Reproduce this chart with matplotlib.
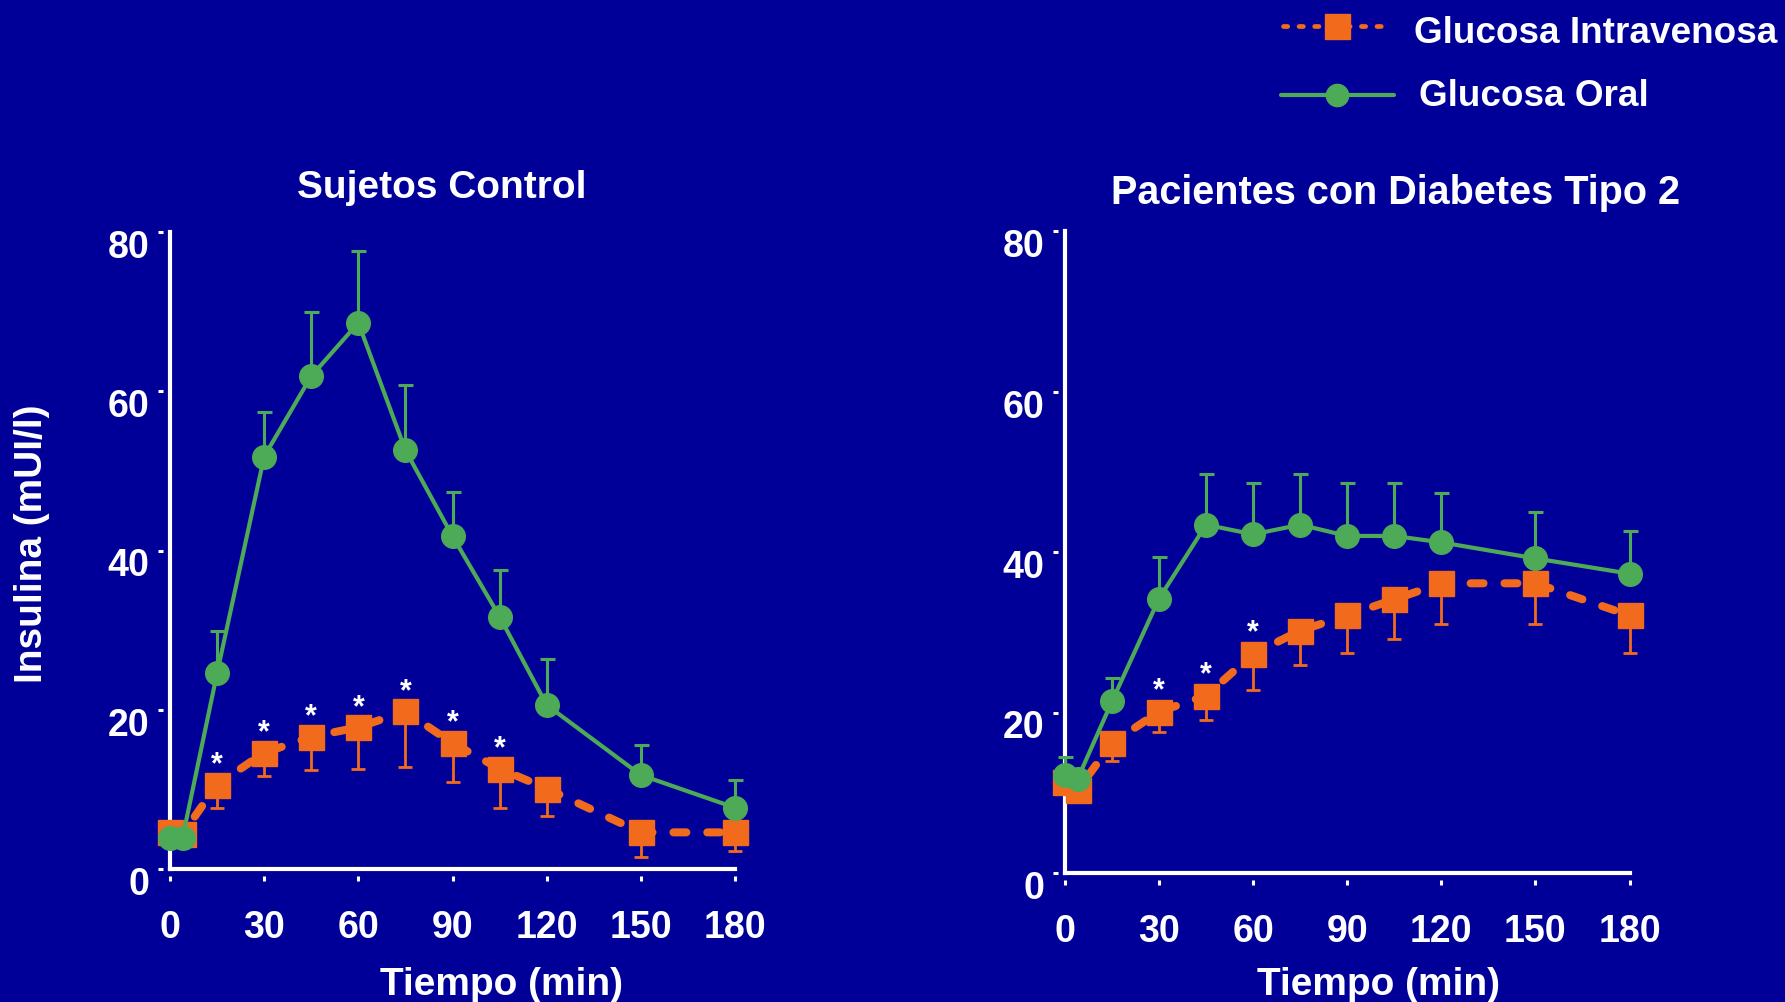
import matplotlib.pyplot as plt
from matplotlib.lines import Line2D
from matplotlib.transforms import ScaledTranslation
import numpy as np

plt.rcParams['font.family'] = ['Liberation Sans', 'DejaVu Sans']
plt.rcParams['font.weight'] = 'bold'

BG = '#000099'
ORANGE = '#F26B1D'
GREEN = '#4DAA57'

# sampling times (min)
time = [0, 4, 15, 30, 45, 60, 75, 90, 105, 120, 150, 180]

# control subjects: insulin (mU/l), mean and SEM
control_oral = [3.9, 3.9, 24.6, 51.8, 61.9, 68.6, 52.6, 41.8, 31.7, 20.6, 11.8, 7.7]
control_oral_sem = [0, 0, 5.3, 5.6, 8.1, 9.0, 8.2, 5.6, 5.8, 5.8, 3.8, 3.5]
control_iv = [4.6, 4.4, 10.6, 14.6, 16.6, 17.8, 19.8, 15.8, 12.6, 10.1, 4.6, 4.6]
control_iv_sem = [0, 0, 2.9, 2.9, 4.2, 5.3, 7.0, 4.9, 4.9, 3.4, 3.1, 2.4]
control_sig = [15, 30, 45, 60, 75, 90, 105]

# type 2 diabetes patients
dm2_oral = [12.2, 11.7, 21.4, 34.2, 43.4, 42.2, 43.4, 42.0, 42.0, 41.2, 39.2, 37.3]
dm2_oral_sem = [2.2, 0, 2.9, 5.2, 6.3, 6.4, 6.3, 6.6, 6.6, 6.1, 5.8, 5.3]
dm2_iv = [11.4, 10.3, 16.2, 20.1, 22.1, 27.3, 30.2, 32.1, 34.1, 36.1, 36.1, 32.1]
dm2_iv_sem = [0, 0, 2.2, 2.5, 3.0, 4.5, 4.3, 4.7, 5.0, 5.1, 5.1, 4.7]
dm2_sig = [30, 45, 60]

xticks = [0, 30, 60, 90, 120, 150, 180]
yticks = [0, 20, 40, 60, 80]

W, H = 1785, 1003
fig = plt.figure(figsize=(W / 100, H / 100), dpi=100, facecolor=BG)


def fx(x):
    return x / W


def fy(y):
    return 1 - y / H


def panel(rect, oral, oral_sem, iv, iv_sem, sig, star_off):
    x0, x1, ytop, ybot = rect
    ax = fig.add_axes([fx(x0), fy(ybot), (x1 - x0) / W, (ybot - ytop) / H])
    ax.set_facecolor('none')
    ax.set_xlim(0, 180)
    ax.set_ylim(0, 80)
    ax.spines[['top', 'right']].set_visible(False)
    for side in ['left', 'bottom']:
        ax.spines[side].set_position(('outward', 5))
        ax.spines[side].set_color('none')
    ax.axhline(0, color='white', lw=3, clip_on=False, zorder=1)
    ax.axvline(0, color='white', lw=3, clip_on=False, zorder=1)

    ax.set_xticks(xticks)
    ax.set_yticks(yticks)
    ax.tick_params(colors='white', direction='out', length=3.6, width=2.2, labelsize=27)
    ax.tick_params(axis='x', pad=20)
    ax.tick_params(axis='y', pad=6)
    shift = ScaledTranslation(0, -0.11, fig.dpi_scale_trans)
    for lab in ax.get_yticklabels():
        lab.set_transform(lab.get_transform() + shift)

    zeros = np.zeros(len(time))
    ax.errorbar(time, iv, yerr=[iv_sem, zeros], fmt='none', ecolor=ORANGE,
                elinewidth=2, capsize=5, capthick=2, zorder=2, clip_on=False)
    ax.errorbar(time, oral, yerr=[zeros, oral_sem], fmt='none', ecolor=GREEN,
                elinewidth=2.2, capsize=5.4, capthick=2.2, zorder=2, clip_on=False)
    ax.plot(time, iv, color=ORANGE, lw=5.8, dashes=(1.6, 2.6), dash_capstyle='round',
            marker='s', ms=18, zorder=4, clip_on=False)
    ax.plot(time, oral, color=GREEN, lw=3, marker='o', ms=17, zorder=5, clip_on=False)

    for t in sig:
        ax.annotate('*', (t, iv[time.index(t)]), xytext=(0, star_off), textcoords='offset points',
                    ha='center', va='baseline', color='white', fontsize=22, fontweight='bold')
    return ax


panel((170, 735, 233, 870), control_oral, control_oral_sem, control_iv, control_iv_sem,
      control_sig, 9)
panel((1065, 1629.5, 232, 874), dm2_oral, dm2_oral_sem, dm2_iv, dm2_iv_sem, dm2_sig, 10)

fig.text(fx(442), fy(198), 'Sujetos Control', ha='center', va='baseline', color='white', fontsize=28)
fig.text(fx(1396), fy(204), 'Pacientes con Diabetes Tipo 2', ha='center', va='baseline',
         color='white', fontsize=28.5)
fig.text(fx(501), fy(995), 'Tiempo (min)', ha='center', va='baseline', color='white', fontsize=28)
fig.text(fx(1378), fy(995), 'Tiempo (min)', ha='center', va='baseline', color='white', fontsize=28)
fig.text(fx(32), fy(544), 'Insulina (mUI/l)', ha='center', va='center', rotation=90,
         color='white', fontsize=28)

# legend
fig.add_artist(Line2D([fx(1283), fx(1392)], [fy(27), fy(27)], transform=fig.transFigure,
                      color=ORANGE, lw=3.4, dashes=(0.9, 2.4), dash_capstyle='round'))
fig.add_artist(Line2D([fx(1337)], [fy(27)], transform=fig.transFigure, color=ORANGE,
                      marker='s', ms=18))
fig.add_artist(Line2D([fx(1281), fx(1394)], [fy(96), fy(96)], transform=fig.transFigure,
                      color=GREEN, lw=3, solid_capstyle='round'))
fig.add_artist(Line2D([fx(1337)], [fy(96)], transform=fig.transFigure, color=GREEN,
                      marker='o', ms=16))
fig.text(fx(1414), fy(43), 'Glucosa Intravenosa', ha='left', va='baseline', color='white',
         fontsize=26.6)
fig.text(fx(1419), fy(106), 'Glucosa Oral', ha='left', va='baseline', color='white', fontsize=26.6)

fig.savefig('out.png', dpi=100, facecolor=BG)
